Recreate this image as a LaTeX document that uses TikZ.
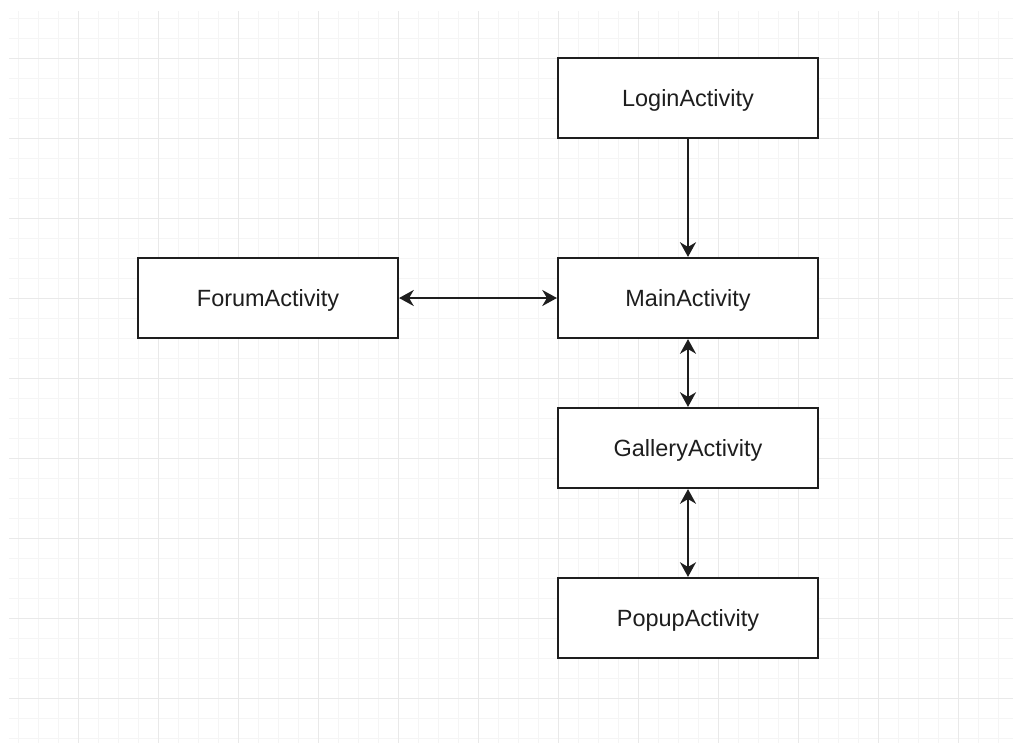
\documentclass[tikz,border=0pt]{standalone}
\usepackage{fontspec}
\setmainfont{Liberation Sans}
\usetikzlibrary{arrows.meta}
\definecolor{minorgrid}{HTML}{F5F5F5}
\definecolor{majorgrid}{HTML}{E9E9E9}
\definecolor{ink}{HTML}{1E1E1E}
\tikzset{
  activity/.style={draw=ink, line width=1.6pt, fill=white, minimum width=195pt,
    minimum height=60pt, inner sep=0pt, text height=12.6pt, text depth=0pt,
    font=\fontsize{17.6}{20}\selectfont, text=ink},
  link/.style={draw=ink, line width=1.5pt,
    -{Stealth[length=11pt,width=12pt,inset=3.5pt]}},
  twoway/.style={link, {Stealth[length=11pt,width=12pt,inset=3.5pt]}-{Stealth[length=11pt,width=12pt,inset=3.5pt]}}
}
\begin{document}
\begin{tikzpicture}[x=0.75pt,y=-0.75pt]
\useasboundingbox (0,0) rectangle (1013,743);
\fill[white] (0,0) rectangle (1013,743);
% background grid: minor every 20px, major every 80px
\begin{scope}
\clip (9,11) rectangle (1013,743);
\foreach \gx in {18,38,...,1010} \draw[minorgrid, line width=0.75pt] (\gx,11) -- (\gx,743);
\foreach \gy in {18,38,...,740} \draw[minorgrid, line width=0.75pt] (9,\gy) -- (1013,\gy);
\foreach \gx in {78,158,...,1010} \draw[majorgrid, line width=0.75pt] (\gx,11) -- (\gx,743);
\foreach \gy in {58,138,...,740} \draw[majorgrid, line width=0.75pt] (9,\gy) -- (1013,\gy);
\end{scope}
% activities
\node[activity] (login)   at (688,98)  {LoginActivity};
\node[activity] (main)    at (688,298) {MainActivity};
\node[activity] (forum)   at (268,298) {ForumActivity};
\node[activity] (gallery) at (688,448) {GalleryActivity};
\node[activity] (popup)   at (688,618) {PopupActivity};
% navigation
\draw[link] (login) -- (main);
\draw[twoway] (forum) -- (main);
\draw[twoway] (main) -- (gallery);
\draw[twoway] (gallery) -- (popup);
\end{tikzpicture}
\end{document}
